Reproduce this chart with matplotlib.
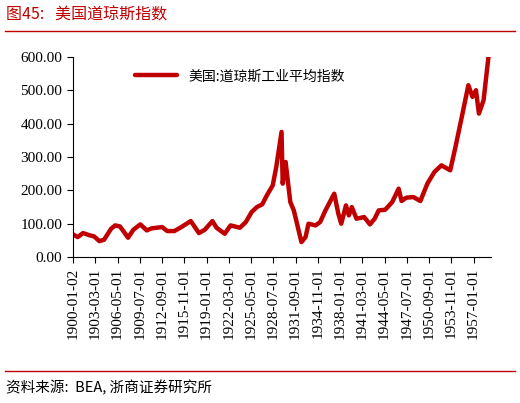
import matplotlib
matplotlib.use("Agg")
import matplotlib.pyplot as plt
import matplotlib.dates as mdates
import pandas as pd

dates = ["1900-01","1900-09","1901-06","1902-06","1903-01","1903-10","1904-06","1905-06","1906-01","1906-09",
         "1907-03","1907-11","1908-08","1909-08","1910-07","1911-03","1912-09","1913-06","1914-06","1915-06",
         "1916-10","1917-12","1918-10","1919-11","1920-06","1921-08","1922-06","1923-10","1924-08","1925-06",
         "1926-03","1926-12","1927-08","1928-06","1928-12","1929-09","1929-11","1930-04","1930-12","1931-06",
         "1932-07","1933-02","1933-07","1934-07","1935-03","1935-12","1936-06","1937-03","1937-10","1938-03",
         "1938-11","1939-04","1939-09","1940-05","1941-06","1942-04","1942-12","1943-07","1944-06","1945-06",
         "1946-05","1946-10","1947-06","1948-06","1949-06","1950-06","1951-06","1952-06","1953-09","1954-06",
         "1955-06","1956-04","1956-11","1957-05","1957-10","1958-06","1959-01","1959-05"]
values = [68,60,72,65,62,48,52,85,95,92,
          78,58,82,98,80,86,90,78,78,90,
          108,72,82,108,88,70,95,88,105,135,
          150,158,185,215,270,375,220,285,165,140,
          45,60,100,95,105,140,160,190,130,100,
          155,125,150,115,120,98,115,140,142,165,
          205,168,178,180,168,220,255,275,260,330,
          430,515,480,500,430,470,580,640]

ser = pd.Series(values, index=pd.to_datetime(dates))
red = "#C00000"

fig = plt.figure(figsize=(5.2, 4.03), dpi=100)
ax = fig.add_axes([0.14, 0.362, 0.804, 0.497])
ax.plot(ser.index, ser.values, color=red, lw=3.2, label="美国:道琼斯工业平均指数", solid_capstyle="round")
ax.set_ylim(0, 600)
ax.set_xlim(pd.Timestamp("1899-12-20"), pd.Timestamp("1959-06-15"))
ax.set_yticks(range(0, 601, 100))
ax.set_yticklabels([f"{v:.2f}" for v in range(0, 601, 100)], fontfamily="Liberation Serif", fontsize=11)
ticks = pd.date_range("1900-01-01", periods=19, freq="38MS")
ticklabels = [t.strftime("%Y-%m-%d") for t in ticks]
ticklabels[0] = "1900-01-02"
ax.set_xticks(ticks)
ax.set_xticklabels(ticklabels, rotation=90, fontfamily="Liberation Serif", fontsize=11)
for s in ["top", "right"]:
    ax.spines[s].set_visible(False)
ax.tick_params(length=4, width=0.8)
leg = ax.legend(loc="upper center", bbox_to_anchor=(0.4, 1.0), frameon=False,
                prop={"family": "Noto Sans CJK SC", "size": 10}, handlelength=3)

fig.text(0.012, 0.962, "图45:   美国道琼斯指数", color=red, fontsize=11.5,
         family=["Noto Sans CJK SC", "DejaVu Sans"], va="center")
fig.add_artist(plt.Line2D([0.01, 0.99], [0.923, 0.923], color=red, lw=1))
fig.add_artist(plt.Line2D([0.01, 0.99], [0.08, 0.08], color=red, lw=1))
fig.text(0.012, 0.038, "资料来源:  BEA, 浙商证券研究所", fontsize=10.5,
         family=["Noto Sans CJK SC", "DejaVu Sans"], va="center")
fig.savefig("out.png", dpi=100)
